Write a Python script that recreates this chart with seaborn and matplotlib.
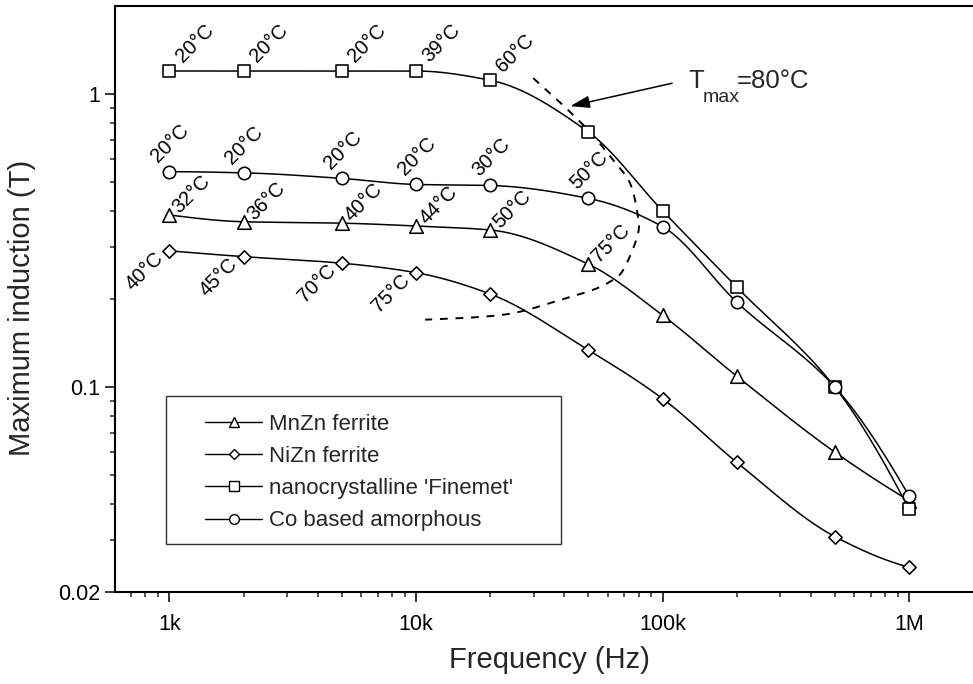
import numpy as np
import pandas as pd
import matplotlib
matplotlib.use("Agg")
import matplotlib.pyplot as plt
import seaborn as sns
from matplotlib.lines import Line2D
from matplotlib.patches import Rectangle
from matplotlib.ticker import FixedLocator, FixedFormatter, NullFormatter

# ---------------- data ----------------
freq = [1e3, 2e3, 5e3, 1e4, 2e4, 5e4, 1e5, 2e5, 5e5, 1e6]
mnzn = [0.387, 0.367, 0.363, 0.355, 0.344, 0.263, 0.176, 0.109, 0.060, 0.041]
nizn = [0.292, 0.279, 0.265, 0.246, 0.208, 0.134, 0.0914, 0.0554, 0.0309, 0.0243]
finemet = [1.2, 1.2, 1.2, 1.2, 1.116, 0.743, 0.40, 0.2195, 0.100, 0.0383]
coamorph = [0.544, 0.539, 0.516, 0.492, 0.488, 0.441, 0.353, 0.195, 0.100, 0.0425]

mnzn_temps = ["32°C", "36°C", "40°C", "44°C", "50°C", "75°C"]
nizn_temps = ["40°C", "45°C", "70°C", "75°C"]
finemet_temps = ["20°C", "20°C", "20°C", "39°C", "60°C"]
co_temps = ["20°C", "20°C", "20°C", "20°C", "30°C", "50°C"]

# T_max = 80 °C iso-temperature curve (dashed)
tmax_freq = [29.9e3, 39.5e3, 50.8e3, 63.0e3, 73.8e3, 79.5e3, 78.9e3,
             69.2e3, 61.2e3, 52.3e3, 41.0e3, 26.4e3, 18.7e3, 10.9e3]
tmax_b = [1.134, 0.917, 0.742, 0.596, 0.497, 0.381, 0.326,
          0.251, 0.229, 0.215, 0.2018, 0.181, 0.174, 0.170]

labels = ["MnZn ferrite", "NiZn ferrite", "nanocrystalline 'Finemet'", "Co based amorphous"]

xticks = [1e3, 1e4, 1e5, 1e6]
xticklabels = ["1k", "10k", "100k", "1M"]
yticks = [0.02, 0.1, 1]
yticklabels = ["0.02", "0.1", "1"]

# ---------------- helpers ----------------
def pchip(x, y, xs):
    x = np.asarray(x, float); y = np.asarray(y, float)
    h = np.diff(x); d = np.diff(y) / h
    n = len(x); m = np.zeros(n)
    for k in range(1, n - 1):
        if d[k - 1] * d[k] > 0:
            w1 = 2 * h[k] + h[k - 1]; w2 = h[k] + 2 * h[k - 1]
            m[k] = (w1 + w2) / (w1 / d[k - 1] + w2 / d[k])
    def endslope(h0, h1, d0, d1):
        s = ((2 * h0 + h1) * d0 - h0 * d1) / (h0 + h1)
        if np.sign(s) != np.sign(d0):
            s = 0.0
        elif np.sign(d0) != np.sign(d1) and abs(s) > abs(3 * d0):
            s = 3 * d0
        return s
    m[0] = endslope(h[0], h[1], d[0], d[1])
    m[-1] = endslope(h[-1], h[-2], d[-1], d[-2])
    idx = np.clip(np.searchsorted(x, xs) - 1, 0, n - 2)
    t = (xs - x[idx]) / h[idx]
    h00 = 2 * t**3 - 3 * t**2 + 1; h10 = t**3 - 2 * t**2 + t
    h01 = -2 * t**3 + 3 * t**2; h11 = t**3 - t**2
    return h00 * y[idx] + h10 * h[idx] * m[idx] + h01 * y[idx + 1] + h11 * h[idx] * m[idx + 1]

def catmull(px, py, npts=20):
    P = np.column_stack([px, py])
    P = np.vstack([2 * P[0] - P[1], P, 2 * P[-1] - P[-2]])
    out = []
    for i in range(1, len(P) - 2):
        p0, p1, p2, p3 = P[i - 1], P[i], P[i + 1], P[i + 2]
        t = np.linspace(0, 1, npts, endpoint=False)[:, None]
        seg = 0.5 * ((2 * p1) + (-p0 + p2) * t + (2 * p0 - 5 * p1 + 4 * p2 - p3) * t**2
                     + (-p0 + 3 * p1 - 3 * p2 + p3) * t**3)
        out.append(seg)
    out.append(P[-2][None, :])
    out = np.vstack(out)
    return out[:, 0], out[:, 1]

# ---------------- style ----------------
sns.set_style("ticks")
plt.rcParams["font.family"] = ["Liberation Sans", "DejaVu Sans"]
plt.rcParams["axes.linewidth"] = 1.5

fig = plt.figure(figsize=(9.73, 6.84), dpi=100)
ax = fig.add_axes([115 / 973, 1 - 592 / 684, 858 / 973, 586 / 684])
ax.set_xscale("log"); ax.set_yscale("log")

series = [
    (labels[0], mnzn, "^", 95, mnzn_temps, "tri"),
    (labels[1], nizn, "D", 46, nizn_temps, "dia"),
    (labels[2], finemet, "s", 74, finemet_temps, "sq"),
    (labels[3], coamorph, "o", 80, co_temps, "circ"),
]

lx = np.log10(freq)
xs = np.linspace(lx[0], lx[-1], 400)
for name, vals, mk, size, temps, kind in series:
    ys = pchip(lx, np.log10(vals), xs)
    sns.lineplot(x=10**xs, y=10**ys, ax=ax, color="black", lw=1.1,
                 sort=False, estimator=None, zorder=2)

for name, vals, mk, size, temps, kind in series:
    df = pd.DataFrame({"freq": freq, "B": vals})
    sns.scatterplot(data=df, x="freq", y="B", ax=ax, marker=mk, s=size,
                    color="white", edgecolor="black", linewidth=1.15,
                    zorder=3, legend=False)

# temperature labels
offsets = {
    "sq": (9.5, 5.5, "left"),
    "circ": (-8.0, 6.0, "left"),
    "tri": (7.4, 0.6, "left"),
    "dia": (-3.6, -6.0, "right"),
}
for name, vals, mk, size, temps, kind in series:
    dx, dy, ha = offsets[kind]
    for f, b, t in zip(freq, vals, temps):
        ax.annotate(t, xy=(f, b), xytext=(dx, dy), textcoords="offset points",
                    rotation=45, rotation_mode="anchor", ha=ha, va="baseline",
                    fontsize=14.5, color="black", zorder=4)

# T_max dashed curve
cx, cy = catmull(np.log10(tmax_freq) * 246.6, np.log10(tmax_b) * 293.5)
ax.plot(10**(cx / 246.6), 10**(cy / 293.5), color="black", lw=1.4,
        dashes=(4.0, 4.0), zorder=1.5)

ax.annotate("", xy=(42.2e3, 0.910), xytext=(109.3e3, 1.09),
            arrowprops=dict(arrowstyle="-|>,head_length=0.7,head_width=0.22",
                            mutation_scale=17, color="black", lw=1.1,
                            shrinkA=0, shrinkB=0))
ax.text(126.9e3, 1.048, "T", fontsize=18.5, ha="left", va="baseline")
ax.text(145e3, 0.941, "max", fontsize=14, ha="left", va="baseline")
ax.text(200.4e3, 1.048, "=80°C", fontsize=18.5, ha="left", va="baseline")

# axes
ax.set_xlim(602, 1.815e6)
ax.set_ylim(0.02, 2.0)
ax.xaxis.set_major_locator(FixedLocator(xticks))
ax.xaxis.set_major_formatter(FixedFormatter(xticklabels))
xminor = [m * 10**e for e in range(2, 7) for m in range(2, 10)]
ax.xaxis.set_minor_locator(FixedLocator(xminor))
ax.xaxis.set_minor_formatter(NullFormatter())
ax.yaxis.set_major_locator(FixedLocator(yticks))
ax.yaxis.set_major_formatter(FixedFormatter(yticklabels))
yminor = [m * 10**e for e in (-2, -1) for m in range(2, 10)]
ax.yaxis.set_minor_locator(FixedLocator(yminor))
ax.yaxis.set_minor_formatter(NullFormatter())

ax.tick_params(which="major", direction="out", length=7.5, width=1.1,
               labelsize=15.5, colors="black")
ax.tick_params(axis="x", which="major", pad=8)
ax.tick_params(axis="y", which="major", pad=3)
ax.tick_params(which="minor", direction="out", length=3.6, width=1.1)
ax.tick_params(top=False, right=False, which="both")
ax.spines["right"].set_visible(False)
for s in ("left", "bottom", "top"):
    ax.spines[s].set_linewidth(1.5)
    ax.spines[s].set_color("black")

ax.set_xlabel("Frequency (Hz)", fontsize=21)
ax.set_ylabel("Maximum induction (T)", fontsize=21)
ax.xaxis.set_label_coords(0.506, -0.093)
ax.yaxis.set_label_coords(-0.092, 0.485)

# legend: frame drawn separately so its size matches the reference box
ax.add_patch(Rectangle((0.0594, 0.0819), 0.4604, 0.2526, transform=ax.transAxes,
                       fill=True, facecolor="white", edgecolor="#333333",
                       lw=1.0, zorder=5))
handles = [Line2D([], [], color="black", lw=1.0, marker=m, ms=ms, mfc="white",
                  mec="black", mew=1.0)
           for m, ms in (("^", 7), ("D", 5.5), ("s", 6.5), ("o", 7))]
leg = ax.legend(handles, labels, loc="upper left",
                bbox_to_anchor=((205 - 115) / 858, (592 - 414) / 586),
                borderaxespad=0.0, borderpad=0.0, fontsize=16, frameon=False,
                handlelength=2.57, handletextpad=0.32, labelspacing=0.5)
leg.set_zorder(6)

fig.savefig("out.png", dpi=100)
